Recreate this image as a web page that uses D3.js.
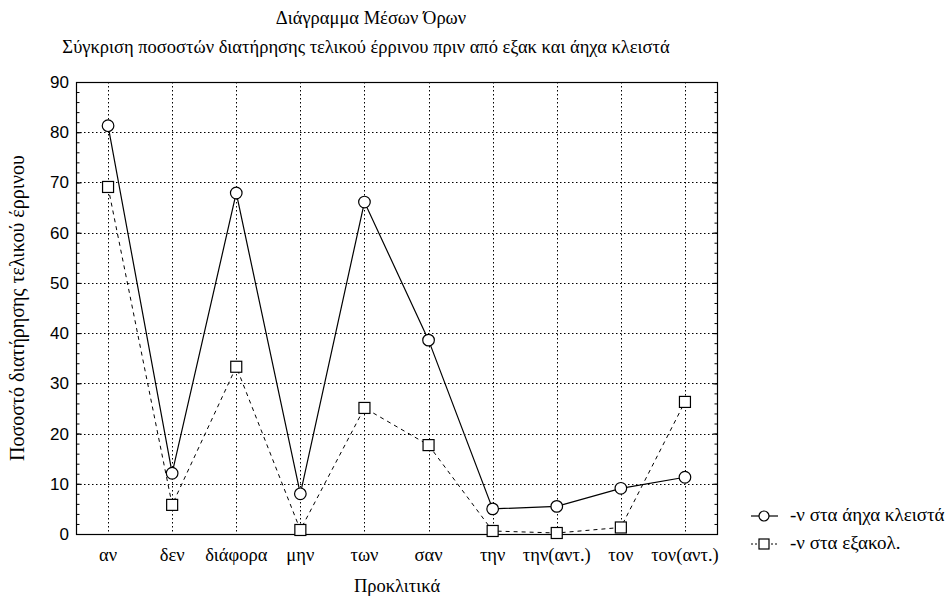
<!DOCTYPE html>
<html>
<head>
<meta charset="utf-8">
<script src="https://cdn.jsdelivr.net/npm/d3@7"></script>
<style>
  html, body { margin: 0; padding: 0; background: #fff; }
  svg { display: block; }
</style>
</head>
<body>
<svg id="chart" width="951" height="598"></svg>
<script>
// Clitic categories along the x axis
const categories = ["αν", "δεν", "διάφορα", "μην", "των", "σαν", "την", "την(αντ.)", "τον", "τον(αντ.)"];
// Mean retention (%) of final nasal before voiceless stops
const voicelessStops = [81.3, 12.1, 67.9, 8.0, 66.1, 38.6, 5.0, 5.5, 9.1, 11.3];
// Mean retention (%) of final nasal before other continuants
const continuants = [69.1, 5.8, 33.3, 0.8, 25.1, 17.7, 0.6, 0.2, 1.3, 26.3];
const yTicks = [0, 10, 20, 30, 40, 50, 60, 70, 80, 90];
const seriesNames = ["-ν στα άηχα κλειστά", "-ν στα εξακολ."];

const svg = d3.select("#chart");
const m = { left: 76, right: 717, top: 82, bottom: 534 };
const serif = "'Liberation Serif', 'Times New Roman', serif";
const sans = "'Liberation Sans', Arial, sans-serif";
const fs = "18.5px";

const x = d3.scalePoint().domain(categories).range([m.left, m.right]).padding(0.5);
const y = d3.scaleLinear().domain([0, 90]).range([m.bottom, m.top]);

// Titles
svg.append("text").attr("x", 371).attr("y", 24).attr("text-anchor", "middle")
  .style("font-family", serif).style("font-size", fs).text("Διάγραμμα Μέσων Όρων");
svg.append("text").attr("x", 366).attr("y", 53).attr("text-anchor", "middle")
  .style("font-family", serif).style("font-size", fs)
  .text("Σύγκριση ποσοστών διατήρησης τελικού έρρινου πριν από εξακ και άηχα κλειστά");

// Grid
const grid = svg.append("g").attr("stroke", "#000").attr("stroke-width", 1).attr("stroke-dasharray", "1.5,2.5");
grid.selectAll("line.h").data(yTicks.filter(t => t > 0 && t < 90)).join("line")
  .attr("x1", m.left).attr("x2", m.right)
  .attr("y1", d => Math.round(y(d)) + 0.5).attr("y2", d => Math.round(y(d)) + 0.5);
grid.selectAll("line.v").data(categories).join("line")
  .attr("x1", d => Math.round(x(d)) + 0.5).attr("x2", d => Math.round(x(d)) + 0.5)
  .attr("y1", m.top).attr("y2", m.bottom);

// Y axes (ticks pointing inward on both sides)
const minor = d3.range(0, 91, 2);
const leftAxis = d3.axisRight(y).tickValues(minor).tickSize(3).tickFormat("");
const rightAxis = d3.axisLeft(y).tickValues(minor).tickSize(3).tickFormat("");
svg.append("g").attr("transform", `translate(${m.left + 0.5},0)`).call(leftAxis)
  .call(g => g.select(".domain").remove());
svg.append("g").attr("transform", `translate(${m.right + 0.5},0)`).call(rightAxis)
  .call(g => g.select(".domain").remove());
svg.append("g").attr("transform", `translate(${m.left + 0.5},0)`)
  .call(d3.axisRight(y).tickValues(yTicks).tickSize(5).tickFormat(""))
  .call(g => g.select(".domain").remove());
svg.append("g").attr("transform", `translate(${m.right + 0.5},0)`)
  .call(d3.axisLeft(y).tickValues(yTicks).tickSize(5).tickFormat(""))
  .call(g => g.select(".domain").remove());

// Y tick labels
svg.append("g").selectAll("text").data(yTicks).join("text")
  .attr("x", m.left - 7).attr("y", d => y(d) + 6).attr("text-anchor", "end")
  .style("font-family", sans).style("font-size", "17px").text(d => d);

// X category labels
svg.append("g").selectAll("text").data(categories).join("text")
  .attr("x", d => x(d)).attr("y", m.bottom + 27).attr("text-anchor", "middle")
  .style("font-family", serif).style("font-size", fs).text(d => d);

// Axis titles
svg.append("text").attr("x", 397).attr("y", 592).attr("text-anchor", "middle")
  .style("font-family", serif).style("font-size", fs).text("Προκλιτικά");
svg.append("text").attr("transform", `translate(24,${(m.top + m.bottom) / 2}) rotate(-90)`)
  .attr("text-anchor", "middle")
  .style("font-family", serif).style("font-size", "20px").text("Ποσοστό διατήρησης τελικού έρρινου");

// Frame
svg.append("rect").attr("x", m.left + 0.5).attr("y", m.top + 0.5)
  .attr("width", m.right - m.left).attr("height", m.bottom - m.top)
  .attr("fill", "none").attr("stroke", "#000").attr("stroke-width", 1.2);

// Series lines
const line = d3.line().x((d, i) => x(categories[i])).y(d => y(d));
svg.append("path").datum(continuants).attr("d", line)
  .attr("fill", "none").attr("stroke", "#000").attr("stroke-width", 1).attr("stroke-dasharray", "4,4");
svg.append("path").datum(voicelessStops).attr("d", line)
  .attr("fill", "none").attr("stroke", "#000").attr("stroke-width", 1.2);

// Markers
svg.append("g").selectAll("rect").data(continuants).join("rect")
  .attr("x", (d, i) => x(categories[i]) - 5.5).attr("y", d => y(d) - 5.5)
  .attr("width", 11).attr("height", 11)
  .attr("fill", "#fff").attr("stroke", "#000").attr("stroke-width", 1.2);
svg.append("g").selectAll("circle").data(voicelessStops).join("circle")
  .attr("cx", (d, i) => x(categories[i])).attr("cy", d => y(d)).attr("r", 5.8)
  .attr("fill", "#fff").attr("stroke", "#000").attr("stroke-width", 1.2);

// Legend
const lg = svg.append("g");
const ly1 = 516, ly2 = 544;
lg.append("line").attr("x1", 751).attr("x2", 778).attr("y1", ly1).attr("y2", ly1)
  .attr("stroke", "#000").attr("stroke-width", 1.2);
lg.append("circle").attr("cx", 764).attr("cy", ly1).attr("r", 5)
  .attr("fill", "#fff").attr("stroke", "#000").attr("stroke-width", 1.2);
lg.append("text").attr("x", 790).attr("y", ly1 + 5)
  .style("font-family", serif).style("font-size", "19px").text(seriesNames[0]);
lg.append("line").attr("x1", 751).attr("x2", 778).attr("y1", ly2).attr("y2", ly2)
  .attr("stroke", "#000").attr("stroke-width", 1).attr("stroke-dasharray", "2,2");
lg.append("rect").attr("x", 759).attr("y", ly2 - 5).attr("width", 10).attr("height", 10)
  .attr("fill", "#fff").attr("stroke", "#000").attr("stroke-width", 1.2);
lg.append("text").attr("x", 790).attr("y", ly2 + 5)
  .style("font-family", serif).style("font-size", "19px").text(seriesNames[1]);
</script>
</body>
</html>
